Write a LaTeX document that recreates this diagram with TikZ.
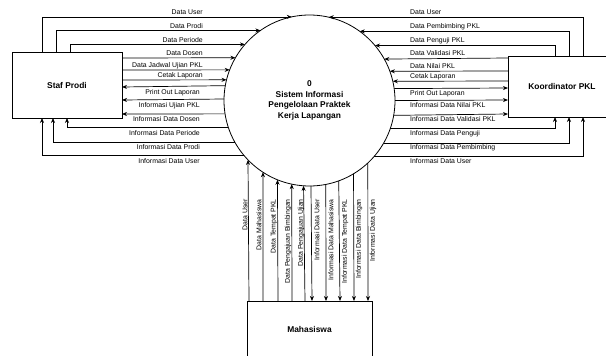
\documentclass[tikz,border=0pt]{standalone}
\usepackage{fontspec}
\setmainfont{Liberation Sans}
\usetikzlibrary{arrows.meta}

\tikzset{
  entity/.style={draw, line width=0.8pt, inner sep=0pt, outer sep=0pt,
    font=\fontsize{8.4}{10}\selectfont\bfseries},
  process/.style={draw, circle, line width=0.8pt, minimum size=171pt,
    inner sep=0pt, outer sep=0pt, align=center,
    font=\fontsize{8.4}{10.5}\selectfont\bfseries},
  flow/.style={line width=0.7pt, -{Stealth[length=5pt,width=4pt]}},
  lbl/.style={font=\fontsize{6.9}{7.5}\selectfont, inner sep=0pt},
}

\begin{document}
\begin{tikzpicture}[x=1pt,y=-1pt]
\useasboundingbox (0,0) rectangle (606,356);
\clip (0,0) rectangle (606,356);

% process and external entities
\node[process] (c) at (309.5,100.5)
  {0\\Sistem Informasi\\Pengelolaan Praktek\\Kerja Lapangan};
\node[entity, minimum width=110pt, minimum height=66pt] (sp) at (67,85) {Staf Prodi};
\node[entity, minimum width=108pt, minimum height=61pt] (kp) at (562,86.5) {Koordinator PKL};
\node[entity, minimum width=125pt, minimum height=57pt] (mh) at (309.5,329.5) {Mahasiswa};

% ---- Staf Prodi ----
% inputs leaving the top edge
\foreach \y/\dx/\t [count=\i] in {17/30/Data User, 31/44/Data Prodi, 45/58/Data Periode} {
  \pgfmathsetmacro\a{180-asin((100.5-\y)/85.5)}
  \draw[flow] ([xshift=\dx pt]sp.north west) |- (c.\a);
  \node[lbl, anchor=base east] (spa\i) at (203,\y-3) {\t};
}
% inputs leaving the right edge
\foreach \y/\t [count=\i] in {58/Data Dosen, 70/Data Jadwal Ujian PKL, 80/Cetak Laporan} {
  \pgfmathsetmacro\a{180-asin((100.5-\y)/85.5)}
  \draw[flow] (sp.east |- 0,\y) -- (c.\a);
  \node[lbl, anchor=base east] (spb\i) at (203,\y-3) {\t};
}
% outputs into the right edge
\foreach \y/\t [count=\i] in {87/Print Out Laporan, 100/Informasi Ujian PKL, 114/Informasi Data Dosen} {
  \pgfmathsetmacro\a{180-asin((100.5-\y)/85.5)}
  \draw[flow] (c.\a) -- (sp.east |- 0,\y);
  \node[lbl, anchor=base east] (spc\i) at (200,\y+7.5) {\t};
}
% outputs into the bottom edge
\foreach \y/\dx/\t [count=\i] in {128/55/Informasi Data Periode, 142/41/Informasi Data Prodi, 156/30/Informasi Data User} {
  \pgfmathsetmacro\a{180-asin((100.5-\y)/85.5)}
  \draw[flow] (c.\a) -| ([xshift=\dx pt]sp.south west);
  \node[lbl, anchor=base east] (spd\i) at (200,\y+7.5) {\t};
}

% ---- Koordinator PKL ----
\foreach \y/\dx/\t [count=\i] in {17/75/Data User, 31/61/Data Pembimbing PKL, 45/47/Data Penguji PKL} {
  \pgfmathsetmacro\a{mod(asin((100.5-\y)/85.5)+360,360)}
  \draw[flow] ([xshift=\dx pt]kp.north west) |- (c.\a);
  \node[lbl, anchor=base west] (kpa\i) at (410,\y-3) {\t};
}
\foreach \y/\t [count=\i] in {58/Data Validasi PKL, 71/Data Nilai PKL, 81/Cetak Laporan} {
  \pgfmathsetmacro\a{mod(asin((100.5-\y)/85.5)+360,360)}
  \draw[flow] (kp.west |- 0,\y) -- (c.\a);
  \node[lbl, anchor=base west] (kpb\i) at (410,\y-3) {\t};
}
\foreach \y/\t [count=\i] in {88/Print Out Laporan, 100/Informasi Data Nilai PKL, 114/Informasi Data Validasi PKL} {
  \pgfmathsetmacro\a{mod(asin((100.5-\y)/85.5)+360,360)}
  \draw[flow] (c.\a) -- (kp.west |- 0,\y);
  \node[lbl, anchor=base west] (kpc\i) at (410,\y+7.5) {\t};
}
\foreach \y/\dx/\t [count=\i] in {128/47/Informasi Data Penguji, 142/61/Informasi Data Pembimbing, 156/75/Informasi Data User} {
  \pgfmathsetmacro\a{mod(asin((100.5-\y)/85.5)+360,360)}
  \draw[flow] (c.\a) -| ([xshift=\dx pt]kp.south west);
  \node[lbl, anchor=base west] (kpd\i) at (410,\y+7.5) {\t};
}

% ---- Mahasiswa ----
\foreach \x/\t [count=\i] in {249/Data User, 263/Data Mahasiswa, 278/Data Tempat PKL,
    292/Data Pengajuan Bimbingan, 305/Data Pengajuan Ujian} {
  \pgfmathsetmacro\a{360-acos((\x-309.5)/85.5)}
  \draw[flow] (mh.north -| \x,0) -- (c.\a);
  \node[lbl, rotate=90, anchor=east] (mha\i) at (\x-4,199) {\t};
}
\foreach \x/\t [count=\i] in {312/Informasi Data User, 326/Informasi Data Mahasiswa,
    340/Informasi Data Tempat PKL, 354/Informasi Data Bimbingan, 368/Informasi Data Ujian} {
  \pgfmathsetmacro\a{360-acos((\x-309.5)/85.5)}
  \draw[flow] (c.\a) -- (mh.north -| \x,0);
  \node[lbl, rotate=90, anchor=east] (mhb\i) at (\x+5,199) {\t};
}
\end{tikzpicture}
\end{document}
